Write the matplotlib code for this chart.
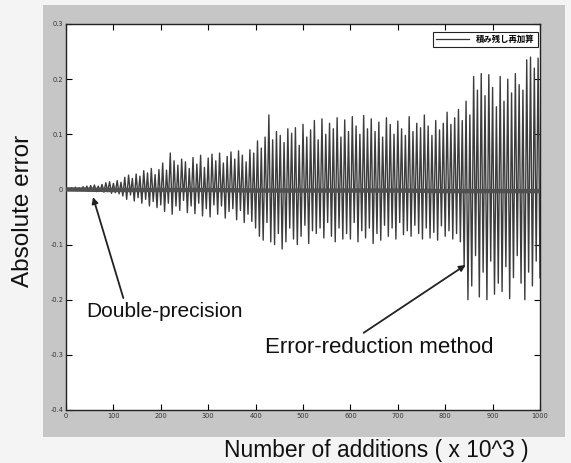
import matplotlib
matplotlib.use("Agg")
import matplotlib.pyplot as plt
from matplotlib.lines import Line2D
import numpy as np

# ---------------- data ----------------
x_step = 4  # thousand additions between samples
double_precision_err = [
    0.000, 0.002, -0.001, 0.003, -0.001, 0.004, -0.002, 0.003, -0.001, 0.005,
    -0.002, 0.006, -0.003, 0.007, -0.002, 0.008, -0.004, 0.006, -0.003, 0.009,
    -0.005, 0.012, -0.004, 0.014, -0.007, 0.011, -0.006, 0.016, -0.008, 0.013,
    -0.012, 0.022, -0.018, 0.026, -0.010, 0.020, -0.021, 0.028, -0.015, 0.024,
    -0.025, 0.034, -0.018, 0.030, -0.030, 0.038, -0.022, 0.027, -0.033, 0.036,
    -0.028, 0.048, -0.040, 0.035, -0.025, 0.066, -0.045, 0.052, -0.030, 0.044,
    -0.038, 0.055, -0.020, 0.050, -0.042, 0.038, -0.030, 0.058, -0.044, 0.046,
    -0.025, 0.062, -0.048, 0.040, -0.035, 0.057, -0.050, 0.064, -0.028, 0.052,
    -0.045, 0.066, -0.030, 0.048, -0.052, 0.060, -0.040, 0.068, -0.035, 0.055,
    -0.055, 0.070, -0.038, 0.062, -0.060, 0.050, -0.045, 0.072, -0.058, 0.066,
    -0.070, 0.088, -0.085, 0.075, -0.092, 0.095, -0.060, 0.135, -0.095, 0.090,
    -0.100, 0.105, -0.080, 0.098, -0.108, 0.085, -0.095, 0.110, -0.070, 0.102,
    -0.090, 0.112, -0.100, 0.080, -0.085, 0.118, -0.065, 0.095, -0.098, 0.108,
    -0.075, 0.125, -0.080, 0.090, -0.070, 0.128, -0.088, 0.100, -0.060, 0.120,
    -0.085, 0.110, -0.095, 0.130, -0.070, 0.095, -0.090, 0.126, -0.080, 0.105,
    -0.090, 0.132, -0.060, 0.115, -0.095, 0.100, -0.075, 0.134, -0.088, 0.110,
    -0.070, 0.128, -0.098, 0.105, -0.080, 0.122, -0.092, 0.095, -0.065, 0.130,
    -0.085, 0.118, -0.070, 0.100, -0.090, 0.124, -0.060, 0.110, -0.082, 0.098,
    -0.075, 0.132, -0.085, 0.105, -0.065, 0.120, -0.080, 0.112, -0.090, 0.135,
    -0.070, 0.115, -0.088, 0.098, -0.078, 0.125, -0.092, 0.108, -0.066, 0.120,
    -0.085, 0.140, -0.075, 0.118, -0.090, 0.130, -0.080, 0.145, -0.095, 0.125,
    -0.140, 0.160, -0.200, 0.135, -0.175, 0.205, -0.120, 0.180, -0.195, 0.210,
    -0.150, 0.170, -0.200, 0.208, -0.130, 0.185, -0.190, 0.150, -0.170, 0.205,
    -0.185, 0.160, -0.140, 0.200, -0.198, 0.175, -0.160, 0.210, -0.120, 0.190,
    -0.170, 0.180, -0.200, 0.235, -0.150, 0.240, -0.175, 0.220, -0.130, 0.238,
    -0.160,
]
reduction_x = [0, 100, 200, 300, 400, 500, 600, 700, 800, 900, 1000]
reduction_err = [0.000, -0.001, -0.001, -0.001, -0.002, -0.002, -0.002, -0.002, -0.003, -0.003, -0.003]

x_ticks = [0, 100, 200, 300, 400, 500, 600, 700, 800, 900, 1000]
y_ticks = [-0.4, -0.3, -0.2, -0.1, 0, 0.1, 0.2, 0.3]
y_tick_labels = ["-0.4", "-0.3", "-0.2", "-0.1", "0", "0.1", "0.2", "0.3"]
legend_label = "積み残し再加算"

dp_x = np.arange(len(double_precision_err)) * x_step

# ---------------- figure ----------------
W, H = 571, 463
fig = plt.figure(figsize=(W / 100, H / 100), dpi=100, facecolor="#f4f4f4")

# gray MATLAB-like window background (separate axes behind the plot)
bg = fig.add_axes([43 / W, 1 - 437 / H, (565 - 43) / W, (437 - 5) / H], zorder=0)
bg.set_facecolor("#c6c6c6")
bg.set_xticks([])
bg.set_yticks([])
for s in bg.spines.values():
    s.set_visible(False)

ax = fig.add_axes([66 / W, 1 - 410 / H, (540 - 66) / W, (410 - 24) / H], zorder=1)
ax.set_facecolor("white")

ax.plot(dp_x, double_precision_err, color="#3c3c3c", lw=1.0, zorder=2)
ax.plot(reduction_x, reduction_err, color="#505050", lw=3.2, zorder=3)

ax.set_xlim(0, 1000)
ax.set_ylim(-0.4, 0.3)
ax.set_xticks(x_ticks)
ax.set_xticklabels([str(t) for t in x_ticks])
ax.set_yticks(y_ticks)
ax.set_yticklabels(y_tick_labels)
ax.tick_params(direction="in", top=True, right=True, length=4, width=0.8,
               labelsize=4.8, labelcolor="#333333", pad=2)
for s in ax.spines.values():
    s.set_linewidth(1.0)
    s.set_color("#222222")

leg = ax.legend([Line2D([0], [0], color="#333333", lw=0.9)], [legend_label],
                loc="upper right", bbox_to_anchor=(1.0, 0.985),
                prop={"family": ["Noto Sans CJK JP", "DejaVu Sans"], "size": 6,
                      "weight": "bold"},
                frameon=True, fancybox=False, framealpha=1, edgecolor="#222222",
                handlelength=4, borderpad=0.35, borderaxespad=0.3)
leg.get_frame().set_linewidth(0.8)

# axis labels (outside gray frame)
fig.text(23 / W, 1 - 211 / H, "Absolute error", rotation=90, ha="center", va="center",
         fontsize=17.5, family="Liberation Sans", color="#111111")
fig.text(376 / W, 1 - 450 / H, "Number of additions ( x 10^3 )", ha="center", va="center",
         fontsize=16.4, family="Liberation Sans", color="#111111")

# annotations
ax.text(42, -0.222, "Double-precision", ha="left", va="center", fontsize=15,
        family="Liberation Sans", color="#111111")
ax.annotate("", xy=(57, -0.014), xytext=(121, -0.197),
            arrowprops=dict(arrowstyle="-|>", color="#222222", lw=1.3,
                            mutation_scale=9, shrinkA=0, shrinkB=0))
ax.text(420, -0.286, "Error-reduction method", ha="left", va="center", fontsize=16,
        family="Liberation Sans", color="#111111")
ax.annotate("", xy=(843, -0.137), xytext=(628, -0.26),
            arrowprops=dict(arrowstyle="-|>", color="#222222", lw=1.3,
                            mutation_scale=9, shrinkA=0, shrinkB=0))

fig.savefig("out.png", dpi=100, facecolor=fig.get_facecolor())
